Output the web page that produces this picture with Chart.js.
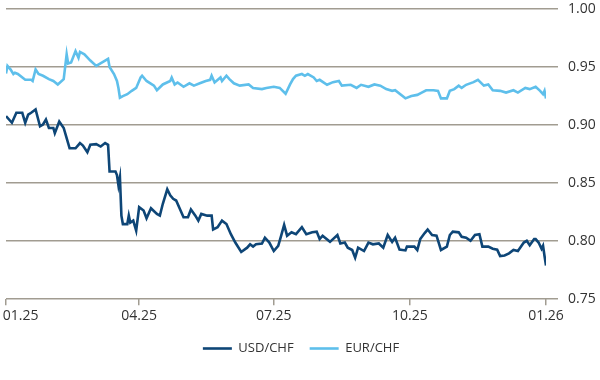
<!DOCTYPE html>
<html>
<head>
<meta charset="utf-8">
<script src="https://cdn.jsdelivr.net/npm/chart.js@4.4.1/dist/chart.umd.min.js"></script>
<style>
  html, body { margin: 0; padding: 0; background: #fff; }
  #wrap { width: 600px; height: 380px; }
</style>
</head>
<body>
<div id="wrap"><canvas id="fx" width="600" height="380"></canvas></div>
<script>
// days since 01.01.2025
const usdDays = [0, 4, 7, 11, 13, 15, 17, 20, 23, 25, 27, 29, 32, 33, 36, 39, 41, 43, 47, 49, 50, 52, 55, 57, 61, 64, 67, 69, 70, 74, 75, 76, 77, 78, 79, 82, 83, 84, 86, 88, 90, 93, 95, 98, 102, 104, 106, 109, 111, 113, 115, 118, 120, 123, 125, 128, 130, 132, 136, 139, 140, 143, 146, 149, 152, 155, 159, 163, 165, 167, 169, 173, 175, 178, 181, 184, 186, 188, 190, 193, 196, 200, 203, 207, 210, 212, 214, 219, 224, 226, 229, 231, 234, 236, 238, 242, 245, 248, 252, 255, 258, 261, 263, 266, 270, 271, 276, 278, 280, 283, 285, 288, 291, 294, 298, 300, 302, 306, 308, 311, 314, 317, 320, 322, 326, 329, 332, 334, 337, 340, 343, 346, 350, 352, 354, 357, 358, 360, 362, 363, 364, 365];
const usdChf = [0.9077, 0.902, 0.9106, 0.9106, 0.902, 0.909, 0.9106, 0.9135, 0.899, 0.9005, 0.9048, 0.8975, 0.8975, 0.893, 0.903, 0.8975, 0.8888, 0.880, 0.880, 0.883, 0.8845, 0.8824, 0.8766, 0.883, 0.8836, 0.8815, 0.8845, 0.883, 0.860, 0.860, 0.857, 0.848, 0.855, 0.822, 0.8147, 0.8147, 0.822, 0.816, 0.8177, 0.809, 0.8293, 0.8264, 0.8197, 0.8284, 0.8235, 0.822, 0.8322, 0.8447, 0.8395, 0.8365, 0.835, 0.8264, 0.8206, 0.8206, 0.8273, 0.822, 0.8177, 0.8235, 0.822, 0.822, 0.810, 0.812, 0.8177, 0.8147, 0.806, 0.7988, 0.7907, 0.7944, 0.7973, 0.7953, 0.7973, 0.798, 0.803, 0.7988, 0.7915, 0.796, 0.8047, 0.814, 0.8047, 0.8076, 0.806, 0.812, 0.806, 0.8076, 0.8082, 0.8018, 0.8047, 0.7994, 0.8053, 0.798, 0.7988, 0.7944, 0.7924, 0.7857, 0.7944, 0.7915, 0.7988, 0.7973, 0.798, 0.7944, 0.8053, 0.7994, 0.803, 0.7927, 0.792, 0.7953, 0.7953, 0.7924, 0.8018, 0.807, 0.810, 0.8053, 0.8047, 0.7924, 0.7953, 0.8053, 0.8082, 0.8076, 0.8038, 0.803, 0.8003, 0.8053, 0.806, 0.7953, 0.7953, 0.7935, 0.7927, 0.7872, 0.7877, 0.7895, 0.7924, 0.7915, 0.7988, 0.8003, 0.7965, 0.8018, 0.8018, 0.7988, 0.7935, 0.796, 0.7872, 0.779];

const eurDays = [0, 1, 3, 5, 6, 8, 13, 17, 18, 20, 22, 25, 29, 32, 35, 39, 41, 42, 44, 47, 49, 50, 53, 57, 61, 65, 69, 70, 73, 75, 76, 77, 79, 82, 85, 88, 91, 92, 95, 100, 102, 106, 111, 112, 114, 116, 120, 124, 127, 131, 135, 138, 139, 141, 145, 146, 149, 151, 154, 158, 164, 167, 173, 176, 181, 185, 189, 192, 194, 196, 200, 202, 204, 208, 210, 212, 217, 221, 225, 227, 233, 237, 240, 245, 249, 253, 257, 261, 263, 270, 274, 278, 281, 284, 289, 292, 294, 298, 300, 303, 306, 308, 311, 316, 319, 323, 326, 329, 334, 338, 343, 346, 351, 354, 358, 361, 363, 364, 365];
const eurChf = [0.9445, 0.951, 0.948, 0.944, 0.945, 0.944, 0.939, 0.939, 0.938, 0.948, 0.944, 0.9425, 0.9396, 0.938, 0.935, 0.9396, 0.961, 0.953, 0.954, 0.9637, 0.958, 0.963, 0.961, 0.9556, 0.951, 0.954, 0.957, 0.95, 0.944, 0.938, 0.932, 0.9236, 0.925, 0.9266, 0.9295, 0.932, 0.941, 0.9425, 0.938, 0.934, 0.930, 0.935, 0.938, 0.941, 0.935, 0.9367, 0.933, 0.936, 0.934, 0.936, 0.938, 0.939, 0.9425, 0.9367, 0.941, 0.938, 0.9425, 0.9396, 0.936, 0.934, 0.935, 0.932, 0.931, 0.932, 0.933, 0.932, 0.927, 0.935, 0.9396, 0.9425, 0.944, 0.9425, 0.944, 0.941, 0.938, 0.939, 0.9347, 0.937, 0.938, 0.934, 0.9347, 0.932, 0.9347, 0.933, 0.935, 0.934, 0.931, 0.9295, 0.930, 0.923, 0.925, 0.926, 0.928, 0.930, 0.930, 0.9295, 0.923, 0.923, 0.9295, 0.931, 0.934, 0.932, 0.9347, 0.937, 0.939, 0.934, 0.935, 0.930, 0.9295, 0.928, 0.930, 0.928, 0.932, 0.931, 0.933, 0.9295, 0.9266, 0.9295, 0.923];

const tickDays = [0, 90, 181, 273, 365];
const tickLabels = ['01.25', '04.25', '07.25', '10.25', '01.26'];
const seriesNames = ['USD/CHF', 'EUR/CHF'];

const darkBlue = '#0e4677';
const lightBlue = '#5ebfeb';
const gridColor = '#a19c91';
const textColor = '#333333';

const toPoints = (days, vals) => days.map((d, i) => ({ x: d, y: vals[i] }));

// labels may hang over the plot edges, don't let them shrink the plot
const noEdgePadding = (scale) => {
  scale.paddingLeft = 0;
  scale.paddingRight = 0;
  scale.paddingTop = 0;
  scale.paddingBottom = 0;
};

new Chart(document.getElementById('fx').getContext('2d'), {
  type: 'line',
  data: {
    datasets: [
      {
        label: seriesNames[0],
        data: toPoints(usdDays, usdChf),
        borderColor: darkBlue,
        backgroundColor: darkBlue,
        borderWidth: 2.6,
        pointRadius: 0,
        tension: 0,
      },
      {
        label: seriesNames[1],
        data: toPoints(eurDays, eurChf),
        borderColor: lightBlue,
        backgroundColor: lightBlue,
        borderWidth: 2.6,
        pointRadius: 0,
        tension: 0,
      }
    ],
  },
  options: {
    responsive: false,
    animation: false,
    layout: {
      autoPadding: false,
      padding: { left: 6, right: 4, top: 9, bottom: 15 },
    },
    plugins: {
      tooltip: { enabled: false },
      legend: {
        position: 'bottom',
        labels: {
          usePointStyle: true,
          pointStyle: 'line',
          pointStyleWidth: 29,
          padding: 16,
          color: textColor,
          font: { family: 'Open Sans', size: 13 },
        },
      },
    },
    scales: {
      x: {
        type: 'linear',
        min: 0,
        max: 365,
        afterBuildTicks: (scale) => {
          scale.ticks = tickDays.map(v => ({ value: v }));
        },
        afterFit: noEdgePadding,
        grid: {
          drawOnChartArea: false,
          drawTicks: true,
          tickLength: 6,
          color: gridColor,
          lineWidth: 1.5,
        },
        border: { display: false },
        ticks: {
          autoSkip: false,
          maxRotation: 0,
          padding: 2,
          color: textColor,
          font: { family: 'Open Sans', size: 14 },
          callback: function(value) {
            const i = tickDays.indexOf(value);
            if (i < 0) return '';
            // first label is pushed inside the canvas
            return i === 0 ? '        ' + tickLabels[i] : tickLabels[i];
          }
        },
      },
      y: {
        position: 'right',
        min: 0.75,
        max: 1.0,
        afterFit: (scale) => {
          noEdgePadding(scale);
          scale.width = 50;
        },
        grid: {
          color: gridColor,
          lineWidth: 1.5,
          tickLength: 12,
        },
        border: { display: false },
        ticks: {
          stepSize: 0.05,
          padding: 10,
          color: textColor,
          font: { family: 'Open Sans', size: 14 },
          callback: function(value) {
            return value.toFixed(2);
          }
        },
      },
    },
  },
});
</script>
</body>
</html>
